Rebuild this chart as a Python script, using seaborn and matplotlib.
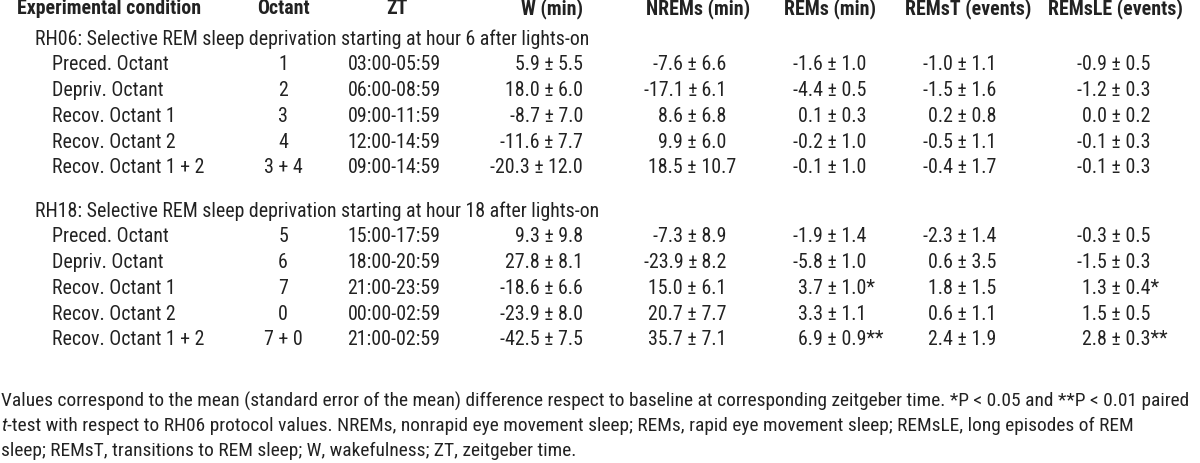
import matplotlib
matplotlib.use("Agg")
import matplotlib.pyplot as plt
import seaborn as sns

# --- datos de la tabla ---
columnas = ["Experimental condition", "Octant", "ZT", "W (min)", "NREMs (min)",
            "REMs (min)", "REMsT (events)", "REMsLE (events)"]
condiciones = ["Preced. Octant", "Depriv. Octant", "Recov. Octant 1",
               "Recov. Octant 2", "Recov. Octant 1 + 2"]

rh06_titulo = "RH06: Selective REM sleep deprivation starting at hour 6 after lights-on"
rh06_octant = ["1", "2", "3", "4", "3 + 4"]
rh06_zt = ["03:00-05:59", "06:00-08:59", "09:00-11:59", "12:00-14:59", "09:00-14:59"]
rh06_w = [(5.9, 5.5), (18.0, 6.0), (-8.7, 7.0), (-11.6, 7.7), (-20.3, 12.0)]
rh06_nrem = [(-7.6, 6.6), (-17.1, 6.1), (8.6, 6.8), (9.9, 6.0), (18.5, 10.7)]
rh06_rem = [(-1.6, 1.0), (-4.4, 0.5), (0.1, 0.3), (-0.2, 1.0), (-0.1, 1.0)]
rh06_remst = [(-1.0, 1.1), (-1.5, 1.6), (0.2, 0.8), (-0.5, 1.1), (-0.4, 1.7)]
rh06_remsle = [(-0.9, 0.5), (-1.2, 0.3), (0.0, 0.2), (-0.1, 0.3), (-0.1, 0.3)]
rh06_sig_rem = ["", "", "", "", ""]
rh06_sig_remsle = ["", "", "", "", ""]

rh18_titulo = "RH18: Selective REM sleep deprivation starting at hour 18 after lights-on"
rh18_octant = ["5", "6", "7", "0", "7 + 0"]
rh18_zt = ["15:00-17:59", "18:00-20:59", "21:00-23:59", "00:00-02:59", "21:00-02:59"]
rh18_w = [(9.3, 9.8), (27.8, 8.1), (-18.6, 6.6), (-23.9, 8.0), (-42.5, 7.5)]
rh18_nrem = [(-7.3, 8.9), (-23.9, 8.2), (15.0, 6.1), (20.7, 7.7), (35.7, 7.1)]
rh18_rem = [(-1.9, 1.4), (-5.8, 1.0), (3.7, 1.0), (3.3, 1.1), (6.9, 0.9)]
rh18_remst = [(-2.3, 1.4), (0.6, 3.5), (1.8, 1.5), (0.6, 1.1), (2.4, 1.9)]
rh18_remsle = [(-0.3, 0.5), (-1.5, 0.3), (1.3, 0.4), (1.5, 0.5), (2.8, 0.3)]
rh18_sig_rem = ["", "", "*", "", "**"]
rh18_sig_remsle = ["", "", "*", "", "**"]

nota_1 = ("Values correspond to the mean (standard error of the mean) difference respect to baseline "
          "at corresponding zeitgeber time. *P < 0.05 and **P < 0.01 paired")
nota_2a = "t"
nota_2b = ("-test with respect to RH06 protocol values. NREMs, nonrapid eye movement sleep; "
           "REMs, rapid eye movement sleep; REMsLE, long episodes of REM")
nota_3 = "sleep; REMsT, transitions to REM sleep; W, wakefulness; ZT, zeitgeber time."

sns.set_theme(style="white")
plt.rcParams["font.family"] = ["Roboto Condensed", "Archivo Narrow", "DejaVu Sans"]

fig = plt.figure(figsize=(12, 4.64), dpi=100)
ax = fig.add_axes([0, 0, 1, 1])
ax.set_xlim(0, 1200)
ax.set_ylim(464, 0)
ax.axis("off")
color = "#222222"


def ancho(texto, size, **kw):
    t = ax.text(0, 0, texto, fontsize=size, **kw)
    fig.canvas.draw()
    w = t.get_window_extent().width
    t.remove()
    return w


# tamaño de letra ajustado al ancho del subtítulo en la referencia (~552 px)
fs = 13 * 552 / ancho(rh06_titulo, 13)
fs_nota = 13 * 1186 / ancho(nota_1, 13)

# encabezados
y_head = 9
ax.text(17, y_head, columnas[0], ha="left", va="center", fontsize=fs, fontweight="bold", color=color)
ax.text(283, y_head, columnas[1], ha="center", va="center", fontsize=fs, fontweight="bold", color=color)
ax.text(397, y_head, columnas[2], ha="center", va="center", fontsize=fs, fontweight="bold", color=color)
ax.text(583, y_head, columnas[3], ha="right", va="center", fontsize=fs, fontweight="bold", color=color)
for nombre, cx in zip(columnas[4:], [698, 830, 968, 1115]):
    ax.text(cx, y_head, nombre, ha="center", va="center", fontsize=fs, fontweight="bold", color=color)

pm_x = [693, 833, 963, 1117]
paso = 25.8


def fmt(v):
    return f"{v:.1f}"


def bloque(y0, titulo, octs, zts, w, nrem, rem, remst, remsle, sig_rem, sig_remsle):
    ax.text(35, y0, titulo, ha="left", va="center", fontsize=fs, color=color)
    for i in range(len(condiciones)):
        y = y0 + paso * (i + 1)
        ax.text(52, y, condiciones[i], ha="left", va="center", fontsize=fs, color=color)
        ax.text(283, y, octs[i], ha="center", va="center", fontsize=fs, color=color)
        ax.text(394, y, zts[i], ha="center", va="center", fontsize=fs, color=color)
        ax.text(583, y, f"{fmt(w[i][0])} ± {fmt(w[i][1])}", ha="right", va="center",
                fontsize=fs, color=color)
        cols = [(nrem[i], ""), (rem[i], sig_rem[i]), (remst[i], ""), (remsle[i], sig_remsle[i])]
        for (val, sig), px in zip(cols, pm_x):
            ax.text(px + 4, y, f"{fmt(val[0])} ±", ha="right", va="center", fontsize=fs, color=color)
            ax.text(px + 4, y, f" {fmt(val[1])}{sig}", ha="left", va="center", fontsize=fs, color=color)


bloque(39, rh06_titulo, rh06_octant, rh06_zt, rh06_w, rh06_nrem, rh06_rem, rh06_remst,
       rh06_remsle, rh06_sig_rem, rh06_sig_remsle)
bloque(211, rh18_titulo, rh18_octant, rh18_zt, rh18_w, rh18_nrem, rh18_rem, rh18_remst,
       rh18_remsle, rh18_sig_rem, rh18_sig_remsle)

# nota al pie
ax.text(1, 401, nota_1, ha="left", va="center", fontsize=fs_nota, color=color)
t_it = ax.text(1, 426, nota_2a, ha="left", va="center", fontsize=fs_nota, color=color, style="italic")
fig.canvas.draw()
bb = t_it.get_window_extent().transformed(ax.transData.inverted())
ax.text(bb.x1, 426, nota_2b, ha="left", va="center", fontsize=fs_nota, color=color)
ax.text(1, 451, nota_3, ha="left", va="center", fontsize=fs_nota, color=color)

fig.savefig("out.png", dpi=100, facecolor="white")
